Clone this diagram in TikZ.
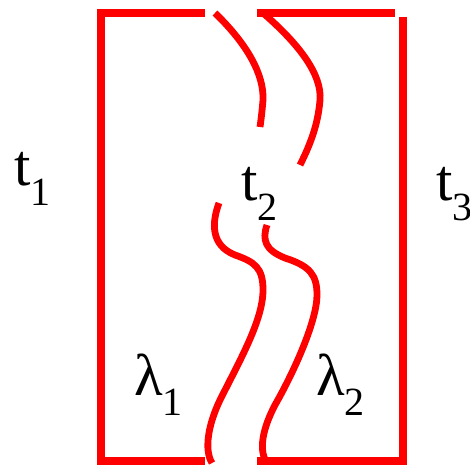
\documentclass[tikz,border=0pt]{standalone}
\usepackage{fontspec}
\setmainfont{Liberation Serif}
\usepackage{xcolor}
\definecolor{cutRed}{HTML}{FF0000}
\newcommand{\subidx}[1]{\raisebox{-0.34em}{\fontsize{40}{44}\selectfont #1}}

\begin{document}
\begin{tikzpicture}[x=1pt,y=-1pt]
  \tikzset{
    wall/.style={line width=7.5pt,cutRed},
    strand/.style={line width=6.8pt,cutRed},
    tlabel/.style={font=\fontsize{59}{64}\selectfont,anchor=base west,inner sep=0pt}
  }
  \useasboundingbox (0,0) rectangle (470,465);

  \draw[wall] (205,13) -- (101,13) -- (101,461) -- (205,461);
  \draw[wall] (257,13) -- (395,13);
  \draw[wall] (403,17) -- (403,465);
  \draw[wall] (257,461) -- (400,461);

  \draw[strand] (215,13) .. controls (248,45) and (264,75) .. (263,100)
    .. controls (262,112) and (261,120) .. (260,127);
  \draw[strand] (263,13) .. controls (300,45) and (322,75) .. (320,100)
    .. controls (318,125) and (310,145) .. (300,165);
  \draw[strand] (219,203) .. controls (212,222) and (210,245) .. (235,255)
    .. controls (255,262) and (263,268) .. (263,290)
    .. controls (263,320) and (240,360) .. (220,400)
    .. controls (208,425) and (204,450) .. (212,463);
  \draw[strand] (267,225) .. controls (262,240) and (265,250) .. (285,258)
    .. controls (310,266) and (317,275) .. (317,295)
    .. controls (317,320) and (295,370) .. (275,405)
    .. controls (263,428) and (258,450) .. (267,463);

  \node[tlabel] (t1) at (14,185) {t\subidx{1}};
  \node[tlabel] (t2) at (241,200) {t\subidx{2}};
  \node[tlabel] (t3) at (436,200) {t\subidx{3}};
  \node[tlabel] (l1) at (134,395) {λ\subidx{1}};
  \node[tlabel] (l2) at (316,395) {λ\subidx{2}};
\end{tikzpicture}
\end{document}
